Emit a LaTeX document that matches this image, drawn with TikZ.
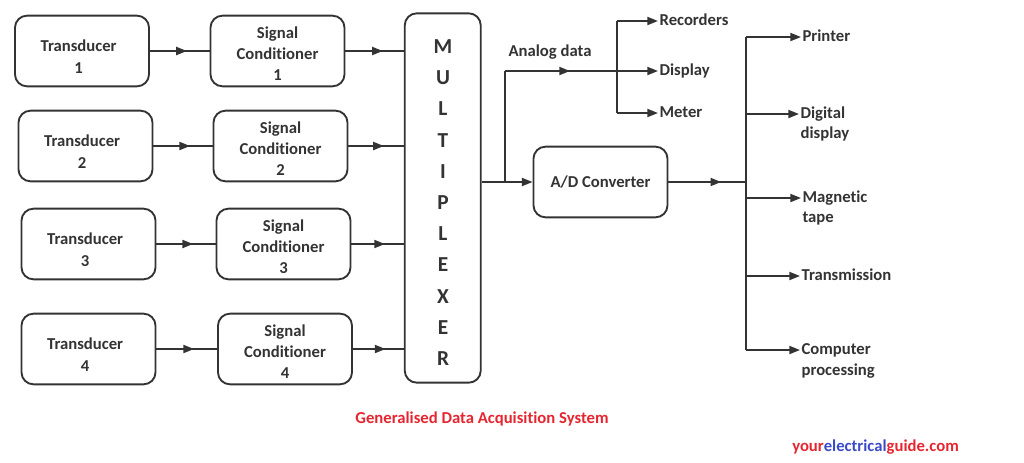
\documentclass[tikz,border=0pt]{standalone}
\usepackage{fontspec}
\setmainfont{Carlito}[Ligatures=NoCommon]
\usetikzlibrary{arrows.meta,decorations.markings,positioning}
\definecolor{ink}{HTML}{333333}
\definecolor{titlered}{HTML}{E52630}
\definecolor{siteblue}{HTML}{3B4BC6}

\begin{document}
\begin{tikzpicture}[x=0.75pt, y=-0.75pt, font=\bfseries\fontsize{12.5}{16}\selectfont, text=ink]

	\tikzset{
		blk/.style={draw=ink, line width=1.4pt, rounded corners=9pt, minimum width=100.5pt, minimum height=53pt, align=center},
		blktext/.style={align=center, font=\bfseries\fontsize{12.5}{16}\selectfont},
		mux/.style={draw=ink, line width=1.4pt, rounded corners=9pt, minimum width=57pt, minimum height=277pt},
		muxchar/.style={font=\bfseries\fontsize{16}{20}\selectfont, inner sep=0pt},
		outlbl/.style={anchor=west, inner sep=1pt, text height=9pt, text depth=2.5pt},
		wire/.style={draw=ink, line width=1.4pt},
		tip/.style={wire, -{Triangle[length=8pt,width=6pt]}},
		midarrow/.style={wire, postaction={decorate}, decoration={markings, mark=at position #1 with {\arrow{Triangle[length=8pt,width=6pt]}}}},
		midarrow/.default=0.62
	}

	\useasboundingbox (0,0) rectangle (1024,462);

	% ---------------------------
	% Channels: transducer -> signal conditioner
	% (#i, transducer x, conditioner x, row y)
	% ---------------------------
	\foreach \i/\tx/\cx/\y in {1/82/277.5/51, 2/85.5/280.5/146, 3/88.5/283.5/244, 4/88.5/285/349} {
		\node[blk] (T\i) at (\tx,\y) {};
		\node[blktext, font=\bfseries\fontsize{12.5}{16.5}\selectfont] (Tt\i) at ([xshift=-2.5pt, yshift=-4.5pt]T\i.center) {Transducer\\\i};
		\node[blk] (C\i) at (\cx,\y) {};
		\node[blktext] (Ct\i) at ([yshift=-2pt]C\i.center) {Signal\\Conditioner\\\i};
	}

	% ---------------------------
	% Multiplexer, one letter per line
	% ---------------------------
	\node[mux] (mux) at (442.75,198) {};
	\foreach \ch [count=\k] in {M,U,L,T,I,P,L,E,X,E,R} {
		\node[muxchar] (mx\k) at (443,{46.5+31.2*(\k-1)}) {\ch};
	}

	\foreach \i in {1,...,4} {
		\draw[midarrow] (T\i.east) -- (C\i.west);
		\draw[midarrow=0.64] (C\i.east) -- (C\i.east -| mux.west);
	}

	% ---------------------------
	% Analog path and A/D converter
	% ---------------------------
	\node[blk] (adc) at (600.5,182) {A/D Converter};
	\coordinate (split) at (505,182);
	\coordinate (ajn) at (617,71);

	\draw[wire] (adc -| mux.east) -- (split);
	\draw[tip] (split) -- (adc.west);
	\draw[wire] (split) -- (split |- ajn);
	\draw[midarrow=0.58] (split |- ajn) -- (ajn);
	\node[anchor=west, inner sep=1pt] (alab) at (507,52) {Analog data};

	\node[outlbl] (rec) at (658,21) {Recorders};
	\node[outlbl] (dsp) at (658,71) {Display};
	\node[outlbl] (met) at (658,113) {Meter};
	\draw[wire] (ajn |- rec) -- (ajn |- met);
	\foreach \n in {rec,dsp,met} {
		\draw[tip] (ajn |- \n) -- (\n.west);
	}

	% ---------------------------
	% Digital outputs
	% ---------------------------
	\coordinate (bus) at (746,182);
	\draw[midarrow=0.68] (adc.east) -- (bus);

	\node[outlbl] (prn) at (801,37) {Printer};
	\node[outlbl] (dig) at (799,114) {Digital};
	\node[outlbl] (dig2) at (799,134) {display};
	\node[outlbl] (mag) at (801,198) {Magnetic};
	\node[outlbl] (mag2) at (801,218) {tape};
	\node[outlbl] (trn) at (800,276) {Transmission};
	\node[outlbl] (cmp) at (800,350) {Computer};
	\node[outlbl] (cmp2) at (800,371) {processing};

	\draw[wire] (bus |- prn) -- (bus |- cmp);
	\foreach \n in {prn,dig,mag,trn,cmp} {
		\draw[tip] (bus |- \n) -- (\n.west);
	}

	% ---------------------------
	% Captions
	% ---------------------------
	\node[text=titlered] (title) at (482,419) {Generalised Data Acquisition System};
	\node[anchor=west, inner sep=0pt] (site) at (792,447) {\textcolor{titlered}{your}\textcolor{siteblue}{electrical}\textcolor{titlered}{guide.com}};

\end{tikzpicture}
\end{document}
